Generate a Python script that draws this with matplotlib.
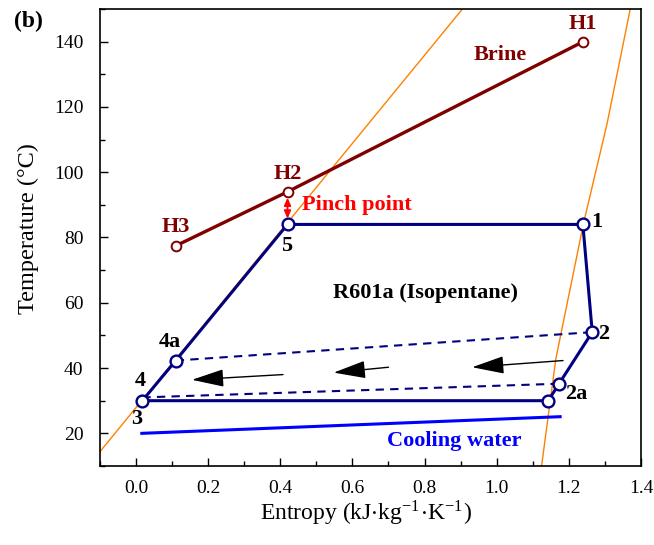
import matplotlib
matplotlib.use("Agg")
import matplotlib.pyplot as plt
from matplotlib.ticker import MultipleLocator

plt.rcParams['font.family'] = ['Liberation Serif', 'DejaVu Serif']
plt.rcParams['mathtext.fontset'] = 'stix'

# ---- data ----
brine_s = [0.111, 0.42, 1.24]
brine_t = [77.5, 94.0, 140.0]
brine_names = ['H3', 'H2', 'H1']

# cycle: 5 -> 1 -> 2 -> 2a -> c -> 3 -> 4a -> 5
cycle_s = [0.42, 1.239, 1.265, 1.173, 1.143, 0.0175, 0.110, 0.42]
cycle_t = [84.0, 84.0, 51.0, 35.2, 30.0, 30.0, 42.3, 84.0]

dash_upper_s = [0.110, 1.265]
dash_upper_t = [42.3, 51.0]
dash_lower_s = [0.0175, 1.173]
dash_lower_t = [31.0, 35.2]

cool_s = [0.016, 1.176]
cool_t = [20.0, 25.1]

sat_left_s = [-0.1, 0.905]
sat_left_t = [14.4, 150.0]
sat_right_s = [1.124, 1.164, 1.231, 1.2425, 1.306, 1.370]
sat_right_t = [9.6, 42.8, 79.0, 85.1, 114.8, 149.8]

# arrows (tail s, tail t, head s, head t)
arrows = [
    (1.184, 42.3, 0.932, 40.25),
    (0.700, 40.25, 0.548, 38.6),
    (0.4075, 38.0, 0.155, 36.4),
]

fig = plt.figure(figsize=(6.54, 5.45), dpi=100)
ax = fig.add_axes([0.1529, 0.145, 0.980 - 0.1529, 0.9835 - 0.145])

orange = '#FF8000'
navy = '#000080'
brine_c = '#800000'

ax.plot(sat_left_s, sat_left_t, color=orange, lw=1.0, zorder=1)
ax.plot(sat_right_s, sat_right_t, color=orange, lw=1.0, zorder=1)

ax.plot(dash_upper_s, dash_upper_t, color=navy, lw=1.5, ls=(0, (4, 3)), zorder=2)
ax.plot(dash_lower_s, dash_lower_t, color=navy, lw=1.5, ls=(0, (4, 3)), zorder=2)

ax.plot(cycle_s, cycle_t, color=navy, lw=2.2, zorder=3)
ax.plot(cycle_s[:-1], cycle_t[:-1], ls='none', marker='o', ms=8.5,
        mfc='white', mec=navy, mew=1.7, zorder=4)

ax.plot(brine_s, brine_t, color=brine_c, lw=2.4, zorder=3)
ax.plot(brine_s, brine_t, ls='none', marker='o', ms=7,
        mfc='white', mec=brine_c, mew=1.4, zorder=4)

ax.plot(cool_s, cool_t, color='#0000FF', lw=2.2, zorder=3)

for ts, tt, hs, ht in arrows:
    ax.annotate('', xy=(hs, ht), xytext=(ts, tt),
                arrowprops=dict(arrowstyle='-|>,head_length=2.0,head_width=0.55',
                                color='black', lw=1.0, shrinkA=0, shrinkB=0))

# pinch point arrow
ax.annotate('', xy=(0.42, 85.8), xytext=(0.42, 92.2),
            arrowprops=dict(arrowstyle='<|-|>,head_length=0.45,head_width=0.2',
                            color='red', lw=1.3, shrinkA=0, shrinkB=0))

bold = dict(fontsize=16, fontweight='bold', ha='center', va='center')
ax.text(1.238, 145.4, 'H1', color=brine_c, **bold)
ax.text(0.42, 99.5, 'H2', color=brine_c, **bold)
ax.text(0.11, 83.1, 'H3', color=brine_c, **bold)
ax.text(1.011, 135.9, 'Brine', color=brine_c, **bold)
ax.text(0.46, 90.1, 'Pinch point', color='red', fontsize=16, fontweight='bold',
        ha='left', va='center')
ax.text(0.418, 77.5, '5', color='black', **bold)
ax.text(1.278, 84.7, '1', color='black', **bold)
ax.text(1.298, 50.3, '2', color='black', **bold)
ax.text(1.222, 32.1, '2a', color='black', **bold)
ax.text(0.094, 47.9, '4a', color='black', **bold)
ax.text(0.013, 35.9, '4', color='black', **bold)
ax.text(0.002, 24.4, '3', color='black', **bold)
ax.text(0.803, 63.0, 'R601a (Isopentane)', color='black', **bold)
ax.text(0.881, 17.8, 'Cooling water', color='#0000FF', **bold)

ax.set_xlim(-0.1, 1.4)
ax.set_ylim(10, 150)
ax.xaxis.set_minor_locator(MultipleLocator(0.1))
ax.yaxis.set_minor_locator(MultipleLocator(10))
ax.set_xticks([0.0, 0.2, 0.4, 0.6, 0.8, 1.0, 1.2, 1.4])
ax.set_yticks([20, 40, 60, 80, 100, 120, 140])
ax.tick_params(which='both', direction='in', top=False, right=False, labelsize=14, width=1.0)
ax.tick_params(which='major', length=6)
ax.tick_params(axis='x', which='major', pad=10)
ax.tick_params(axis='y', which='major', pad=12)
ax.tick_params(which='minor', length=3.5)
for sp in ax.spines.values():
    sp.set_linewidth(1.2)

ax.set_xlabel(r'Entropy (kJ$\cdot$kg$^{\mathregular{-1}}$$\cdot$K$^{\mathregular{-1}}$)', fontsize=17)
ax.set_ylabel('Temperature (°C)', fontsize=17.5)
ax.xaxis.set_label_coords(0.492, -0.072)
ax.yaxis.set_label_coords(-0.113, 0.519)

fig.text(0.021, 0.960, '(b)', fontsize=17, fontweight='bold', ha='left', va='center')

fig.savefig('out.png', dpi=100)
